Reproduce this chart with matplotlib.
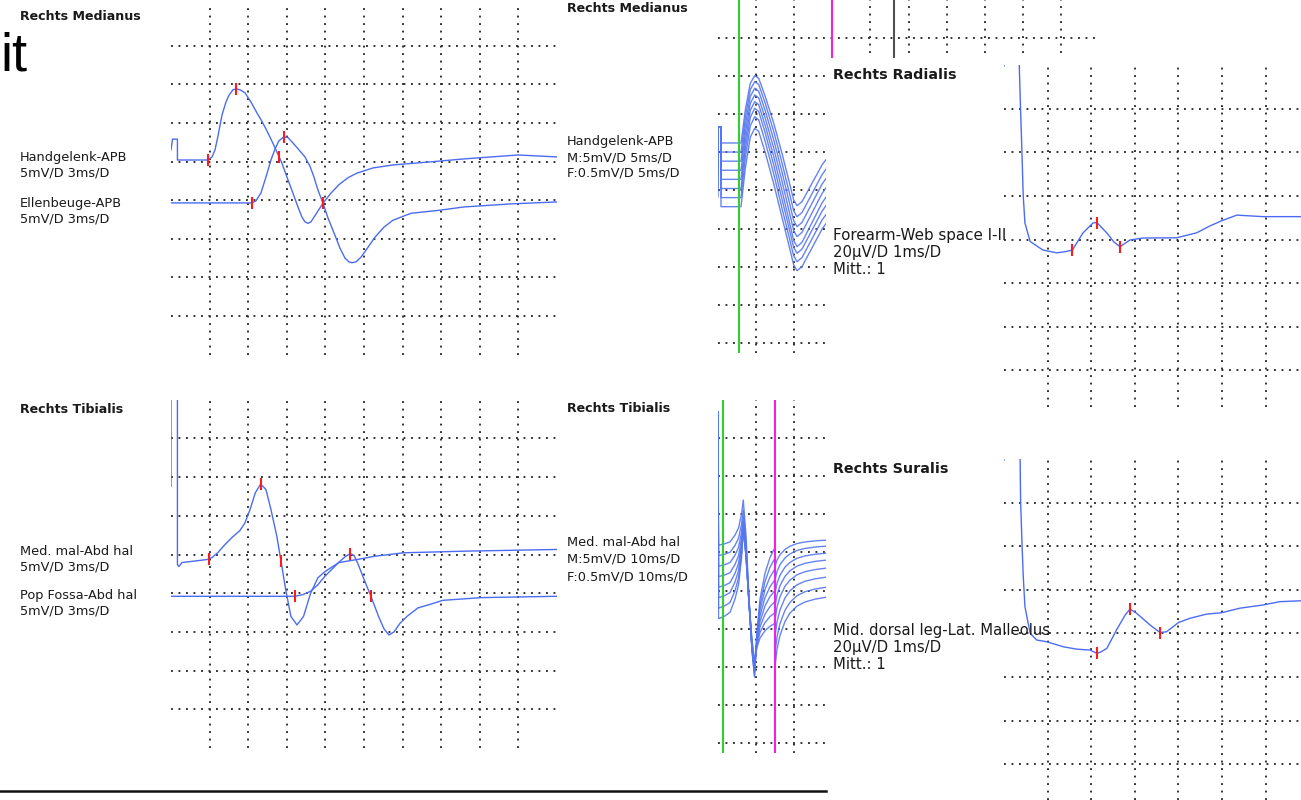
import numpy as np
import matplotlib
matplotlib.use("Agg")
import matplotlib.pyplot as plt
from matplotlib.lines import Line2D

# ---------------- data (ms, mV / µV) ----------------
# Rechts Medianus (3 ms/D, 5 mV/D)
hand_t = [0.0, 0.12, 0.50, 0.50, 2.88, 3.19, 3.42, 3.65, 3.96, 4.27, 4.51, 4.82, 5.05, 5.36, 5.75,
          6.22, 6.68, 7.07, 7.54, 8.08, 8.62, 9.01, 9.48, 9.87, 10.18, 10.41, 10.65, 10.88, 11.27,
          11.81, 12.43, 13.05, 13.75, 14.45, 15.70, 17.25, 20.12, 22.77, 26.97, 29.99]
hand_v = [1.5, 2.9, 2.9, 0.2, 0.2, 0.6, 1.5, 3.3, 6.0, 7.7, 8.6, 9.3, 9.4, 9.3, 8.9,
          7.7, 6.3, 5.2, 3.7, 1.8, -0.2, -2.0, -4.1, -5.9, -7.2, -7.8, -8.0, -7.8, -6.8,
          -5.4, -4.1, -3.0, -2.1, -1.5, -0.83, -0.44, -0.05, 0.34, 0.85, 0.6]
hand_marks = [2.88, 5.05, 8.40]
ell_t = [0.0, 6.29, 6.60, 6.99, 7.38, 7.77, 8.08, 8.39, 8.78, 9.09, 9.48, 9.95, 10.41, 10.80,
         11.11, 11.42, 11.81, 12.20, 12.66, 13.13, 13.52, 13.83, 14.06, 14.37, 14.76, 15.31,
         15.85, 16.55, 17.25, 18.65, 20.90, 22.77, 26.34, 29.99]
ell_v = [-0.36, -0.36, -0.1, 0.93, 3.0, 5.2, 6.6, 7.7, 8.2, 8.1, 7.4, 6.5, 5.6, 4.4,
         3.0, 1.3, -0.36, -2.3, -4.2, -6.2, -7.5, -8.0, -8.1, -8.0, -7.4, -6.1,
         -4.8, -3.5, -2.6, -1.7, -1.3, -0.88, -0.49, -0.23]
ell_marks = [6.29, 8.78, 11.81]

# Rechts Tibialis (3 ms/D, 5 mV/D)
med_t = [0.0, 0.0, 0.50, 0.50, 0.62, 0.85, 1.86, 2.80, 3.19, 3.65, 4.20, 4.74, 5.36, 5.75, 6.14,
         6.56, 6.97, 7.38, 7.77, 8.22, 8.55, 8.91, 9.32, 9.79, 10.30, 10.85, 11.42, 11.97,
         13.05, 14.45, 15.85, 18.07, 22.77, 29.99]
med_v = [8.8, 26.0, 26.0, -1.3, -1.55, -1.04, -0.84, -0.65, -0.39, 0.26, 1.3, 2.2, 3.1, 4.1, 5.8,
         8.0, 9.1, 8.4, 5.8, 2.4, -0.87, -4.5, -8.0, -9.1, -8.0, -5.0, -3.0, -2.2,
         -1.04, -0.65, -0.22, 0.22, 0.43, 0.65]
med_marks = [2.95, 6.97, 8.55]
pop_t = [0.0, 9.63, 10.26, 10.85, 11.42, 11.97, 12.51, 13.05, 13.52, 13.91, 14.22, 14.53, 15.00,
         15.54, 16.13, 16.55, 16.94, 17.33, 17.79, 18.34, 19.19, 20.02, 21.13, 24.16, 29.99]
pop_v = [-0.4, -0.4, -0.18, 0.25, 1.1, 2.2, 3.1, 4.0, 4.7, 5.1, 4.9, 3.8, 1.8,
         -0.4, -3.0, -4.6, -5.4, -5.0, -3.9, -3.0, -1.9, -1.5, -0.92, -0.57, -0.4]
pop_marks = [9.63, 13.91, 15.54]

# Medianus F-waves (5 ms/D, 5 mV/D): shape of the first sweep + per-sweep levels
fm_t = [3.08, 3.64, 4.29, 4.87, 5.39, 6.26, 7.36, 8.44, 9.32, 9.97, 10.41, 11.06, 12.37, 13.68, 14.33, 14.9]
fm_shape = [0, 4.32, 7.81, 8.81, 8.47, 6.06, 2.58, -1.35, -4.84, -7.46, -8.21, -7.68, -5.28, -2.88, -2.0, -1.6]
fm_offsets = [-18.78, -19.97, -21.16, -22.35, -23.54, -24.74, -25.93, -27.12]
fm_peaks = [8.81, 9.22, 9.54, 9.86, 10.17, 10.50, 10.59, 10.26]
fm_troughs = [-8.21, -8.46, -8.57, -8.69, -8.81, -8.48, -8.39, -8.38]
fm_stim_t = [0.07, 0.07, 0.46, 0.46, 2.95]
fm_stim_top = -16.69

# Tibialis F-waves (10 ms/D, M 5 mV/D, F 0.5 mV/D)
ft_rise_t = [0.39, 1.96, 3.27, 4.58, 5.50, 6.28, 6.75]
ft_rise_f = [0, 0.03, 0.07, 0.22, 0.38, 0.68, 1.0]
ft_desc_t = [7.46, 8.25, 9.03, 9.69]
ft_desc_f = [0.2, 0.55, 0.85, 1.0]
ft_rec_t = [10.34, 11.13, 12.44, 13.74, 15.05]
ft_rec_f = [0.35, 0.6, 0.8, 0.92, 1.0]
ft_f_t = [15.05, 15.58, 16.36, 17.67, 18.98, 20.81, 22.91, 25.52, 28.67]
ft_f_f = [0, 0.25, 0.45, 0.65, 0.77, 0.87, 0.93, 0.97, 1.0]
ft_offsets = [-19.05, -20.42, -21.80, -23.17, -24.55, -25.92, -27.30, -28.67]
ft_peaks = [5.89, 5.96, 6.41, 7.13, 8.12, 9.23, 10.34, 11.58]
ft_troughs = [-17.28, -15.64, -13.88, -12.24, -10.60, -8.84, -7.07, -5.43]
ft_fstart = [-0.284, -0.321, -0.357, -0.395, -0.432, -0.513, -0.593, -0.631]
ft_fend = [0.065, 0.124, 0.170, 0.216, 0.249, 0.268, 0.275, 0.281]
ft_stim_top = -1.60
F_GAIN = 10.0

# Rechts Radialis (1 ms/D, 20 µV/D)
rad_t = [0.00, 0.01, 0.33, 0.35, 0.38, 0.41, 0.44, 0.48, 0.60, 0.89, 1.21, 1.42, 1.57, 1.81, 2.04,
         2.13, 2.36, 2.52, 2.66, 2.89, 3.19, 3.96, 4.42, 4.72, 4.99, 5.34, 5.94, 6.81]
rad_v = [79.6, 95, 95, 80.0, 59.4, 41.1, 20.4, 7.6, -0.9, -4.8, -6.1, -5.5, -4.8, 3.0, 7.6,
         7.8, 3.0, -1.1, -3.3, -0.2, 0.7, 0.8, 3.1, 6.2, 8.6, 11.2, 10.5, 10.5]
rad_marks = [1.57, 2.13, 2.66]

# Rechts Suralis (1 ms/D, 20 µV/D)
sur_t = [0.00, 0.01, 0.34, 0.37, 0.38, 0.41, 0.44, 0.48, 0.60, 0.75, 0.98, 1.36, 1.67, 1.97, 2.13,
         2.22, 2.36, 2.58, 2.78, 2.89, 3.04, 3.35, 3.58, 3.73, 4.00, 4.27, 4.65, 4.99, 5.41,
         5.95, 6.33, 6.81]
sur_v = [79.6, 95, 95, 79.9, 61.2, 42.9, 26.8, 12.3, 0.1, -3.0, -3.8, -6.1, -7.2, -7.6, -9.1,
         -8.5, -6.8, 1.6, 8.5, 11.2, 9.3, 3.9, 0.4, 0.8, 5.0, 7.0, 8.9, 9.5, 11.6,
         13.1, 14.6, 15.0]
sur_marks = [2.13, 2.89, 3.58]

# ---------------- styling ----------------
W, H = 1301, 800
fig = plt.figure(figsize=(W / 100, H / 100), dpi=100)
fig.patch.set_facecolor("white")

TRACE = "#4b6cf2"
FTRACE = "#5576f0"
RED = "#ff1a1a"
DOT = dict(color="#2a2a2a", linestyle=(0, (1, 3.0)), linewidth=1.35)


def add_ax(l, t, r, b, z, face="none"):
    ax = fig.add_axes([l / W, 1 - b / H, (r - l) / W, (b - t) / H], zorder=z)
    ax.set_facecolor(face)
    for s in ax.spines.values():
        s.set_visible(False)
    ax.tick_params(length=0, labelbottom=False, labelleft=False)
    return ax


def grid(ax, xt, yt):
    ax.set_xticks(xt)
    ax.set_yticks(yt)
    ax.grid(True, **DOT)
    ax.set_axisbelow(True)


def marks(ax, t, v, mt, off=0.0):
    my = np.interp(mt, t, v) + off
    ax.plot(mt, my, linestyle="none", marker="|", markersize=9, markeredgewidth=1.5,
            color=RED, zorder=5)


def label(x, y, s, size=9.3, bold=False, z=10):
    fig.text(x / W, 1 - y / H, s, ha="left", va="baseline", fontsize=size,
             fontweight="bold" if bold else "normal", family="DejaVu Sans",
             color="#1a1a1a", zorder=z)


# ---- Panel A: Rechts Medianus ----
axA = add_ax(171, 7.1, 557, 354.6, 1)
axA.set_xlim(0, 30)
axA.set_ylim(0, 45)
grid(axA, np.arange(3, 30, 3), np.arange(5, 45, 5))
axA.plot(hand_t, np.array(hand_v) + 25, color=TRACE, lw=1.0)
axA.plot(ell_t, np.array(ell_v) + 20, color=TRACE, lw=1.0)
marks(axA, hand_t, hand_v, hand_marks, 25)
marks(axA, ell_t, ell_v, ell_marks, 20)

# ---- Panel D: Rechts Tibialis ----
axD = add_ax(171, 399.7, 557, 748, 1)
axD.set_xlim(0, 30)
axD.set_ylim(0, 45)
grid(axD, np.arange(3, 30, 3), np.arange(5, 45, 5))
axD.plot(med_t, np.array(med_v) + 25, color=TRACE, lw=1.0)
axD.plot(pop_t, np.array(pop_v) + 20, color=TRACE, lw=1.0)
marks(axD, med_t[4:], med_v[4:], med_marks, 25)
marks(axD, pop_t, pop_v, pop_marks, 20)

# ---- Panel B: Medianus F-waves ----
axB = add_ax(717.5, -0.5, 717.5 + 38.2 * 9.9, 353, 1)
axB.set_xlim(0, 49.5)
axB.set_ylim(-353.5 / 38.2 * 5, 0)
grid(axB, np.arange(5, 49, 5), np.arange(-45, 0, 5))
shape = np.array(fm_shape)
for off, pk, tr in zip(fm_offsets, fm_peaks, fm_troughs):
    y = np.where(shape > 0, shape / fm_shape[3] * pk, shape / fm_shape[10] * tr) + off
    sy = [off + 1.31, fm_stim_top, fm_stim_top, off, off]
    axB.plot(list(fm_stim_t) + list(fm_t), list(sy) + list(y), color=FTRACE, lw=1.0, alpha=0.9)
axB.axvline(2.81, color="#2fd02f", lw=1.5, zorder=4)
axB.axvline(15.0, color="#f020e6", lw=1.5, zorder=4)
axB.axvline(23.14, color="#505050", lw=1.5, zorder=4)

# ---- Panel E: Tibialis F-waves ----
axE = add_ax(717.5, 399.5, 717.5 + 38.2 * 9.9, 752.7, 1)
axE.set_xlim(0, 99)
axE.set_ylim(-(752.7 - 399.5) / 38.2 * 5, 0)
grid(axE, np.arange(10, 99, 10), np.arange(-45, 0, 5))
for off, pk, tr, fs, fe in zip(ft_offsets, ft_peaks, ft_troughs, ft_fstart, ft_fend):
    t = [0.13, 0.26] + ft_rise_t + ft_desc_t + ft_rec_t
    v = ([ft_stim_top - off, 0.0] + [f * pk for f in ft_rise_f]
         + [pk + f * (tr - pk) for f in ft_desc_f]
         + [tr + f * (fs - tr) for f in ft_rec_f])
    axE.plot(t, np.array(v) + off, color=FTRACE, lw=1.0, alpha=0.9)
    fv = [F_GAIN * (fs + f * (fe - fs)) for f in ft_f_f]
    axE.plot(ft_f_t, np.array(fv) + off, color=FTRACE, lw=1.0, alpha=0.9)
axE.axvline(1.57, color="#2fd02f", lw=1.5, zorder=4)
axE.axvline(15.05, color="#f020e6", lw=1.5, zorder=4)

# ---- white cover for the right-hand screenshots ----
cover = add_ax(826, 57.5, 1301, 800, 2, face="white")

# ---- Panel C: Radialis ----
axC = add_ax(1004, 65.1, 1301, 407, 3)
axC.set_xlim(0, 297 / 43.6)
axC.set_ylim(-76.8, 80.0)
grid(axC, np.arange(1, 7), np.arange(-60, 61, 20))
axC.plot(rad_t, rad_v, color=TRACE, lw=1.0)
marks(axC, rad_t[4:], rad_v[4:], rad_marks)

# ---- Panel F: Suralis ----
axF = add_ax(1004, 459.1, 1301, 800, 3)
axF.set_xlim(0, 297 / 43.6)
axF.set_ylim(-76.4, 80.0)
grid(axF, np.arange(1, 7), np.arange(-60, 61, 20))
axF.plot(sur_t, sur_v, color=TRACE, lw=1.0)
marks(axF, sur_t[4:], sur_v[4:], sur_marks)

# ---- texts ----
fig.text(0 / W, 1 - 70.7 / H, "it", ha="left", va="baseline", fontsize=39,
         family="Liberation Sans", color="black", zorder=10)

label(20, 19.5, "Rechts Medianus", 9.1, True)
label(20, 160.7, "Handgelenk-APB")
label(20, 176.7, "5mV/D 3ms/D")
label(20, 206.5, "Ellenbeuge-APB")
label(20, 222.5, "5mV/D 3ms/D")

label(567, 11.5, "Rechts Medianus", 9.1, True)
label(567, 145.5, "Handgelenk-APB")
label(567, 161.5, "M:5mV/D 5ms/D")
label(567, 177, "F:0.5mV/D 5ms/D")

label(20, 413, "Rechts Tibialis", 9.1, True)
label(20, 555, "Med. mal-Abd hal")
label(20, 570.5, "5mV/D 3ms/D")
label(20, 599.5, "Pop Fossa-Abd hal")
label(20, 615, "5mV/D 3ms/D")

label(567, 411.5, "Rechts Tibialis", 9.1, True)
label(567, 546.5, "Med. mal-Abd hal")
label(567, 563, "M:5mV/D 10ms/D")
label(567, 580, "F:0.5mV/D 10ms/D")

label(833, 79, "Rechts Radialis", 10.3, True)
label(833, 240, "Forearm-Web space I-II", 10.9)
label(833, 257, "20µV/D 1ms/D", 10.7)
label(833, 274, "Mitt.: 1", 10.7)

label(833, 473, "Rechts Suralis", 10.3, True)
label(833, 634.5, "Mid. dorsal leg-Lat. Malleolus", 10.6)
label(833, 652, "20µV/D 1ms/D", 10.7)
label(833, 669, "Mitt.: 1", 10.7)

# bottom separator line
fig.add_artist(Line2D([0, 826 / W], [1 - 790.5 / H, 1 - 790.5 / H], color="#111111",
                      lw=1.8, transform=fig.transFigure, zorder=10))

fig.savefig("out.png", dpi=100, facecolor="white")
